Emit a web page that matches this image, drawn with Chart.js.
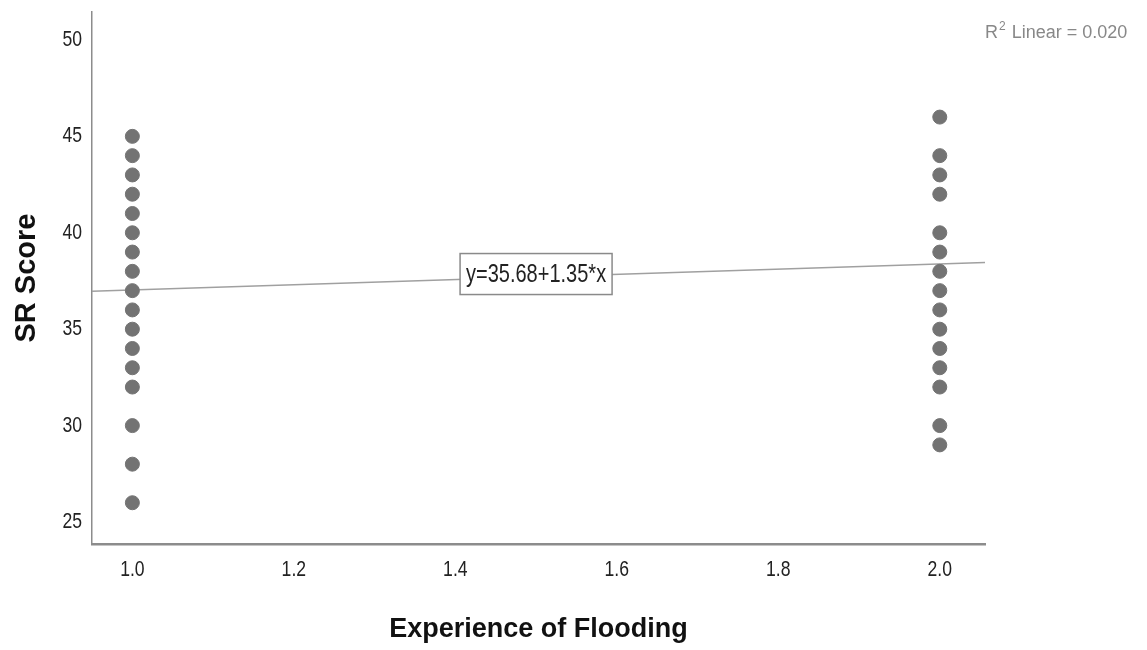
<!DOCTYPE html>
<html><head><meta charset="utf-8">
<script src="https://cdn.jsdelivr.net/npm/chart.js@4.4.1/dist/chart.umd.min.js"></script>
<style>html,body{margin:0;padding:0;background:#fff}#wrap{width:1147px;height:650px}</style>
</head><body><div id="wrap"><canvas id="c" width="1147" height="650"></canvas></div>
<script>
const groupA_x = 1.0;
const groupA_scores = [45,44,43,42,41,40,39,38,37,36,35,34,33,32,30,28,26];
const groupB_x = 2.0;
const groupB_scores = [46,44,43,42,40,39,38,37,36,35,34,33,32,30,29];
const fitIntercept = 35.68;
const fitSlope = 1.35;
const fitLabel = 'y=35.68+1.35*x';
const r2Label = 'Linear = 0.020';
const xTicks = [1.0,1.2,1.4,1.6,1.8,2.0];
const yTicks = [25,30,35,40,45,50];
const xMin = 0.95, xMax = 2.056, yMin = 23.86, yMax = 51.45;

const FONT = '"Liberation Sans",Arial,sans-serif';
const SQUEEZE = 0.8;

const points = [
  ...groupA_scores.map(v => ({x: groupA_x, y: v})),
  ...groupB_scores.map(v => ({x: groupB_x, y: v}))
];
const fitLine = [xMin, xMax].map(x => ({x, y: fitIntercept + fitSlope * x}));

let squeezeOn = true;
const squeezePlugin = {
  id: 'squeeze',
  beforeInit(chart) {
    const ctx = chart.ctx;
    const orig = ctx.fillText.bind(ctx);
    ctx._origFillText = orig;
    ctx.fillText = function(t, x, y, m) {
      if (!squeezeOn || /bold/.test(this.font)) {
        return m === undefined ? orig(t, x, y) : orig(t, x, y, m);
      }
      this.save();
      this.translate(x, y);
      this.scale(SQUEEZE, 1);
      if (m === undefined) orig(t, 0, 0); else orig(t, 0, 0, m / SQUEEZE);
      this.restore();
    };
  }
};

const labelPlugin = {
  id: 'labels',
  afterDraw(chart) {
    const ctx = chart.ctx;
    const xs = chart.scales.x, ys = chart.scales.y;
    const cx = xs.getPixelForValue(1.5);
    const cy = ys.getPixelForValue(fitIntercept + fitSlope * 1.5) - 3;
    ctx.save();
    const w = 152, h = 41;
    ctx.fillStyle = '#fff';
    ctx.fillRect(cx - w/2, cy - h/2, w, h);
    ctx.strokeStyle = '#8a8a8a';
    ctx.lineWidth = 1.5;
    ctx.strokeRect(cx - w/2, cy - h/2, w, h);
    ctx.font = '25px ' + FONT;
    ctx.fillStyle = '#222';
    ctx.textAlign = 'center';
    ctx.textBaseline = 'middle';
    ctx.fillText(fitLabel, cx, cy + 1);
    // R2 label (not squeezed)
    squeezeOn = false;
    ctx.fillStyle = '#888';
    ctx.textAlign = 'left';
    ctx.textBaseline = 'alphabetic';
    ctx.font = '18px ' + FONT;
    const rx = 985, ry = 38;
    ctx.fillText('R', rx, ry);
    const rw = ctx.measureText('R').width;
    ctx.font = '12px ' + FONT;
    ctx.fillText('2', rx + rw + 1, ry - 8);
    const tw = ctx.measureText('2').width;
    ctx.font = '18px ' + FONT;
    ctx.fillText(' ' + r2Label, rx + rw + tw + 2, ry);
    squeezeOn = true;
    ctx.restore();
  }
};

new Chart(document.getElementById('c'), {
  type: 'scatter',
  data: {
    datasets: [
      {
        type: 'scatter',
        data: points,
        backgroundColor: '#737373',
        borderColor: '#737373',
        pointRadius: 7,
        pointHoverRadius: 7,
        order: 1
      },
      {
        type: 'line',
        data: fitLine,
        borderColor: '#a0a0a0',
        borderWidth: 1.5,
        pointRadius: 0,
        fill: false,
        order: 2
      }
    ]
  },
  plugins: [squeezePlugin, labelPlugin],
  options: {
    responsive: false,
    animation: false,
    events: [],
    layout: { padding: { left: 0, right: 162, top: 12, bottom: 0 } },
    plugins: { legend: { display: false }, tooltip: { enabled: false } },
    scales: {
      x: {
        type: 'linear', min: xMin, max: xMax,
        afterBuildTicks(s) { s.ticks = xTicks.map(v => ({value: v})); },
        afterFit(s) { s.height = 106; s.paddingLeft = 0; s.paddingRight = 0; },
        grid: { display: false, drawTicks: false },
        border: { display: true, color: '#8c8c8c', width: 2.5 },
        ticks: { padding: 13, color: '#222', font: { family: FONT, size: 22 },
          callback: v => Number(v).toFixed(1) },
        title: { display: true, text: 'Experience of Flooding', color: '#111',
          font: { family: FONT, size: 27, weight: 'bold' }, padding: { top: 0, bottom: 4 } }
      },
      y: {
        type: 'linear', min: yMin, max: yMax,
        afterBuildTicks(s) { s.ticks = yTicks.map(v => ({value: v})); },
        afterFit(s) { s.width = 92; s.paddingTop = 0; s.paddingBottom = 0; },
        grid: { display: false, drawTicks: false },
        border: { display: true, color: '#8c8c8c', width: 1.5 },
        ticks: { padding: 10, color: '#222', font: { family: FONT, size: 22 } },
        title: { display: true, text: 'SR Score', color: '#111',
          font: { family: FONT, size: 29, weight: 'bold' }, padding: { top: 10, bottom: 0 } }
      }
    }
  }
});
</script></body></html>
